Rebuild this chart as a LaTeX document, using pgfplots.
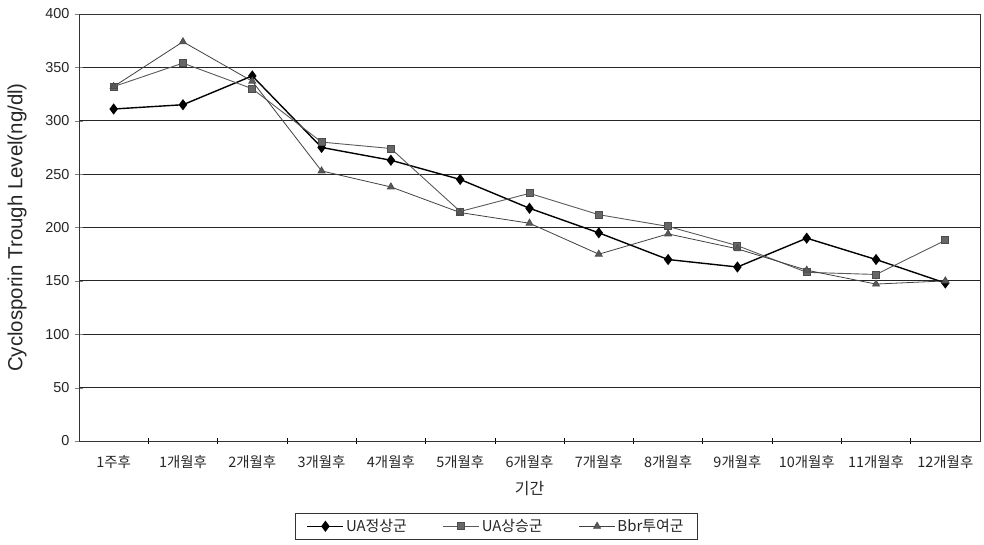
\documentclass[border=0pt]{standalone}
\usepackage{fontspec}
\setmainfont{Liberation Sans}
\newfontfamily\kr{Noto Sans CJK KR}
\usepackage{pgfplots}
\pgfplotsset{compat=1.18}
\begin{document}
\begin{tikzpicture}
\begin{axis}[name=ax, scale only axis, width=901bp, height=427bp,
  xmin=-0.5, xmax=12.5, ymin=0, ymax=400,
  /pgf/number format/assume math mode=true,
  axis line style={draw=black!80, line width=0.8pt},
  xtick pos=lower, ytick pos=left,
  xtick={0,...,12},
  xticklabels={1주후,1개월후,2개월후,3개월후,4개월후,5개월후,6개월후,7개월후,8개월후,9개월후,10개월후,11개월후,12개월후},
  major x tick style={draw=none},
  minor xtick={0.5,1.5,...,11.5},
  minor tick length=6bp,
  minor x tick style={black, line width=0.6pt},
  ytick={0,50,...,400},
  major tick length=8bp,
  tick align=center,
  ymajorgrids, grid style={black!85, line width=0.8pt},
  xticklabel style={font=\kr\fontsize{14.5}{16}\selectfont, text=black!85, yshift=-7bp},
  yticklabel style={font=\fontsize{14.5}{16}\selectfont, text=black!85, xshift=-2bp},
  xlabel={\kr 기간}, xlabel style={font=\fontsize{16}{18}\selectfont, text=black!85, yshift=-6bp},
  ylabel={Cyclosporin Trough Level(ng/dl)}, ylabel style={font=\fontsize{20.5}{23}\selectfont, text=black!85, yshift=12bp},
  legend style={at={(0.463,-0.169)}, anchor=north, legend columns=3, draw=black!80,
    font=\kr\fontsize{15}{17}\selectfont, text=black!85, inner xsep=12bp, inner ysep=4bp,
    /tikz/every even column/.append style={column sep=34bp}},
  legend image code/.code={\draw[mark repeat=2,mark phase=2] plot coordinates {(0bp,0bp)(18bp,0bp)(36bp,0bp)};},
]
\addplot[black, line width=1.4pt, mark=diamond*, mark size=4.5bp, mark options={solid, fill=black}]
  coordinates {(0,311)(1,315)(2,342)(3,275)(4,263)(5,245)(6,218)(7,195)(8,170)(9,163)(10,190)(11,170)(12,148)};
\addlegendentry{UA정상군}
\addplot[black!65, line width=0.9pt, mark=square*, mark size=3.5bp, mark options={solid, fill=black!60, draw=black!70}]
  coordinates {(0,332)(1,354)(2,330)(3,280)(4,274)(5,215)(6,232)(7,212)(8,201)(9,183)(10,158)(11,156)(12,188)};
\addlegendentry{UA상승군}
\addplot[black!75, line width=0.8pt, mark=triangle*, mark size=4bp, mark options={solid, fill=black!65, draw=black!70}]
  coordinates {(0,332)(1,374)(2,337)(3,253)(4,238)(5,214)(6,204)(7,175)(8,194)(9,180)(10,160)(11,147)(12,150)};
\addlegendentry{Bbr투여군}
\end{axis}
\pgfresetboundingbox
\path[use as bounding box] ([xshift=-79bp,yshift=-104bp]ax.south west) rectangle ([xshift=4bp,yshift=14bp]ax.north east);
\end{tikzpicture}
\end{document}
